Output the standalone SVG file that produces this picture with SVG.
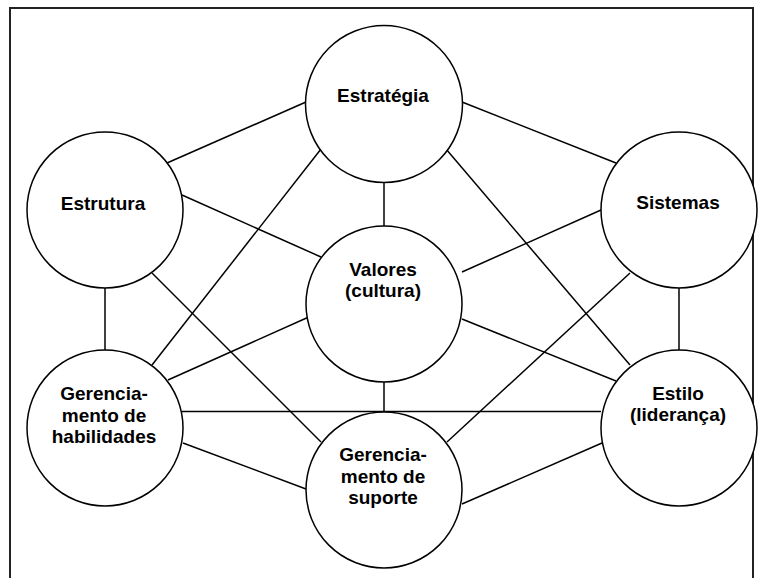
<svg xmlns="http://www.w3.org/2000/svg" width="760" height="578" viewBox="0 0 760 578">
<style>
.n{fill:#fff;stroke:#000;stroke-width:1.5}
.t{font-family:"Liberation Sans",Arial,sans-serif;font-weight:bold;font-size:19px;text-anchor:middle;fill:#000}
#edges line{stroke:#000;stroke-width:1.5}
</style>
<rect x="0" y="0" width="760" height="578" fill="#fff"/>
<path d="M10,590 V8 H753 V590" fill="none" stroke="#222" stroke-width="2"/>
<g id="edges">
<line x1="167" y1="163" x2="306" y2="102"/>
<line x1="462" y1="102" x2="616" y2="163"/>
<line x1="384" y1="183" x2="384" y2="226"/>
<line x1="321" y1="149" x2="152" y2="365"/>
<line x1="446" y1="149" x2="630" y2="365"/>
<line x1="182" y1="195" x2="321" y2="257"/>
<line x1="105" y1="288" x2="105" y2="350"/>
<line x1="152" y1="273" x2="321" y2="442"/>
<line x1="168" y1="380" x2="311" y2="316"/>
<line x1="462" y1="272" x2="601" y2="210"/>
<line x1="462" y1="319" x2="616" y2="381"/>
<line x1="384" y1="382" x2="384" y2="412"/>
<line x1="630" y1="273" x2="447" y2="442"/>
<line x1="679" y1="288" x2="679" y2="350"/>
<line x1="182" y1="411.5" x2="601" y2="411.5"/>
<line x1="183" y1="443" x2="306" y2="489"/>
<line x1="462" y1="504" x2="602" y2="443"/>
</g>
<g id="estrategia"><circle class="n" cx="384" cy="104" r="78.5"/><text class="t" x="383" y="102">Estratégia</text></g>
<g id="estrutura"><circle class="n" cx="105" cy="210" r="78"/><text class="t" x="103" y="210">Estrutura</text></g>
<g id="sistemas"><circle class="n" cx="679" cy="210" r="78"/><text class="t" x="678" y="209">Sistemas</text></g>
<g id="valores"><circle class="n" cx="384" cy="304" r="78"/><text class="t" x="383" y="276">Valores</text><text class="t" x="383" y="297">(cultura)</text></g>
<g id="habilidades"><circle class="n" cx="105" cy="428" r="78"/><text class="t" x="104" y="400">Gerencia-</text><text class="t" x="104" y="421.5">mento de</text><text class="t" x="104" y="443">habilidades</text></g>
<g id="suporte"><circle class="n" cx="384" cy="490" r="78"/><text class="t" x="383" y="461">Gerencia-</text><text class="t" x="383" y="482.5">mento de</text><text class="t" x="383" y="504">suporte</text></g>
<g id="estilo"><circle class="n" cx="679" cy="428" r="78"/><text class="t" x="678" y="400">Estilo</text><text class="t" x="678" y="421">(liderança)</text></g>
</svg>
